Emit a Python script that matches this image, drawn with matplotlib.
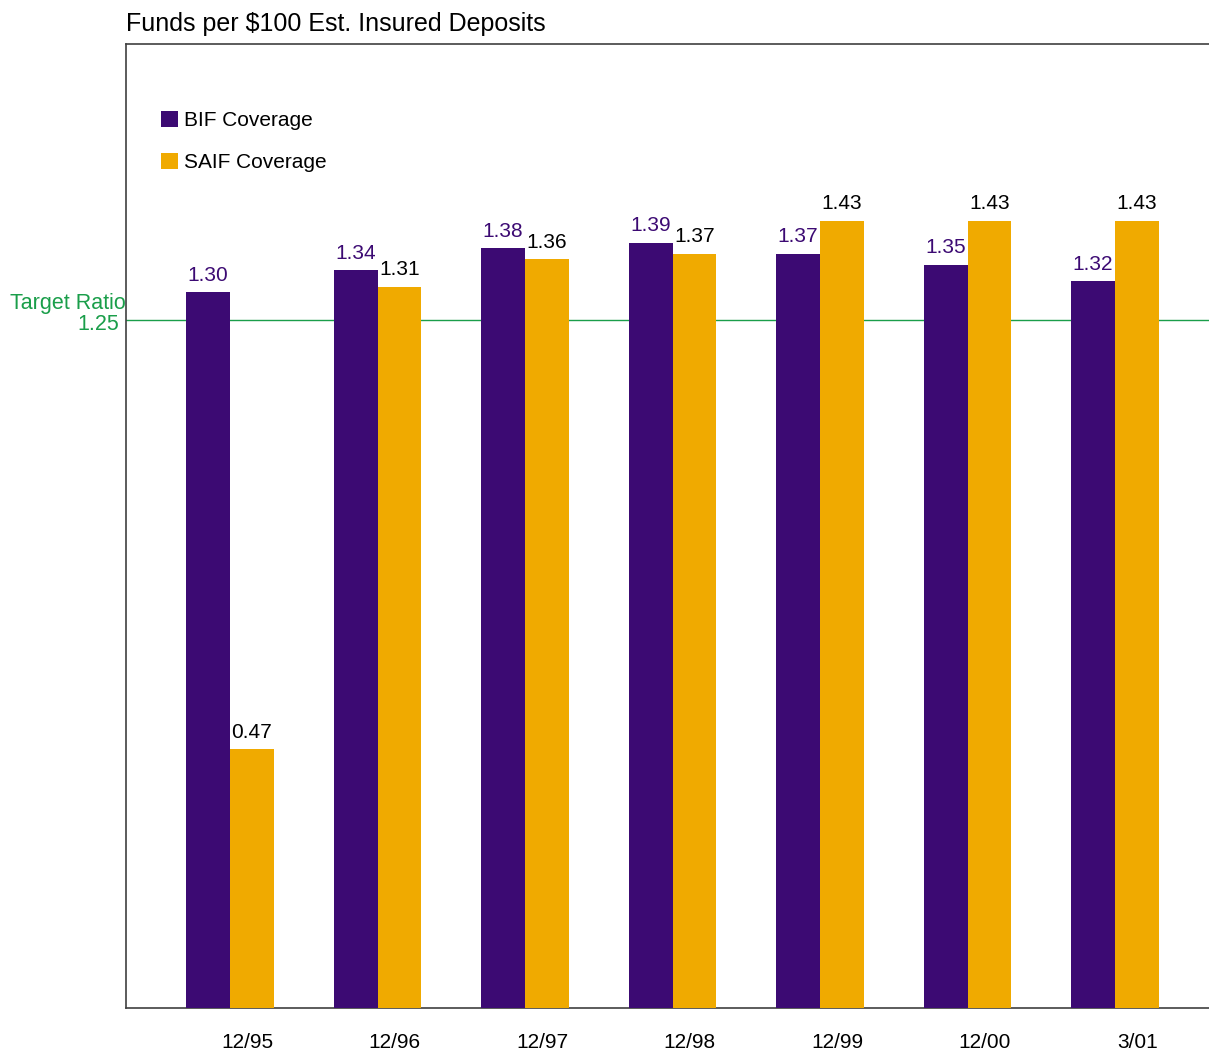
import matplotlib
matplotlib.use("Agg")
import matplotlib.pyplot as plt
import numpy as np

plt.rcParams['font.family'] = ['Liberation Sans', 'DejaVu Sans']

periods = ["12/95", "12/96", "12/97", "12/98", "12/99", "12/00", "3/01"]
bif = [1.30, 1.34, 1.38, 1.39, 1.37, 1.35, 1.32]
saif = [0.47, 1.31, 1.36, 1.37, 1.43, 1.43, 1.43]
target = 1.25

BIF_C = "#3c0a73"
SAIF_C = "#f0aa00"
GREEN = "#1a9e4a"

fig = plt.figure(figsize=(12.09, 10.51), dpi=100)
ax = fig.add_axes([126/1209, 1 - 1008/1051, (1209-126)/1209, (1008-44)/1051])

x = np.arange(len(periods))
w = 0.298
ax.bar(x - w/2, bif, width=w, color=BIF_C, label="BIF Coverage", zorder=3)
ax.bar(x + w/2, saif, width=w, color=SAIF_C, label="SAIF Coverage", zorder=3)

for xi, v in zip(x, bif):
    ax.text(xi - w/2, v + 0.014, f"{v:.2f}", ha="center", va="bottom",
            fontsize=15, color=BIF_C)
for xi, v in zip(x, saif):
    ax.text(xi + w/2, v + 0.014, f"{v:.2f}", ha="center", va="bottom",
            fontsize=15, color="black")

ax.axhline(target, color=GREEN, lw=1, zorder=2)

ax.set_xlim(-0.705, 6.637)
ax.set_ylim(0, 1.7515)
ax.set_yticks([])
ax.set_xticks(x + w - 0.005)
ax.set_xticklabels(periods, fontsize=15, ha="right")
ax.tick_params(axis='x', length=0, pad=18)

for s in ["left", "bottom", "top"]:
    ax.spines[s].set_color("#404040")
    ax.spines[s].set_linewidth(1.2)
ax.spines["right"].set_visible(False)

ax.text(0, 1.0 + 8/964, "Funds per $100 Est. Insured Deposits", transform=ax.transAxes,
        ha="left", va="bottom", fontsize=18)

ax.text(0.0, target + 0.011, "Target Ratio", transform=ax.get_yaxis_transform(),
        ha="right", va="bottom", fontsize=15.5, color=GREEN, clip_on=False)
ax.text(-0.006, target - 0.009, "1.25", transform=ax.get_yaxis_transform(),
        ha="right", va="center", fontsize=15.5, color=GREEN, clip_on=False)

ax.legend(loc="upper left", bbox_to_anchor=(0.015, 0.95), frameon=False,
          fontsize=15, handlelength=0.8, handleheight=0.8, handletextpad=0.3,
          labelspacing=1.1)

fig.savefig("out.png", dpi=100)
